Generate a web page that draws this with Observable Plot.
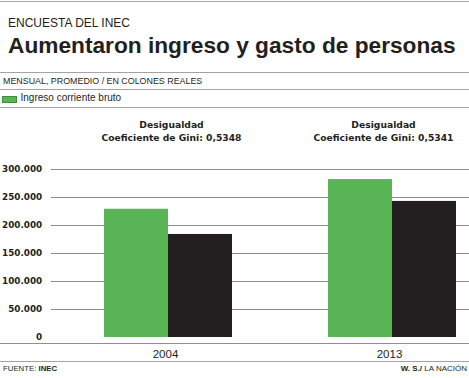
<!DOCTYPE html>
<html>
<head>
<meta charset="utf-8">
<script src="https://cdn.jsdelivr.net/npm/d3@7"></script>
<script src="https://cdn.jsdelivr.net/npm/@observablehq/plot@0.6"></script>
<style>
  html, body { margin: 0; padding: 0; background: #fff; }
  #page { position: relative; width: 469px; height: 378px; overflow: hidden; font-family: "Liberation Sans", Arial, sans-serif; color: #231f20; }
  .abs { position: absolute; line-height: 1; white-space: nowrap; }
  .rule { position: absolute; left: 0; width: 469px; height: 1px; background: #a3a3a3; }
  #chart { position: absolute; left: 0; top: 108px; }
</style>
</head>
<body>
<div id="page">
  <div class="rule" style="top:1px"></div>
  <div class="abs" style="top:17.3px;left:8px;font-size:12px;">ENCUESTA DEL INEC</div>
  <div class="abs" style="top:33.8px;left:8px;font-size:22.7px;font-weight:bold;">Aumentaron ingreso y gasto de personas</div>
  <div class="rule" style="top:72px"></div>
  <div class="abs" style="top:76.5px;left:3px;font-size:8.9px;">MENSUAL, PROMEDIO / EN COLONES REALES</div>
  <div class="rule" style="top:89px"></div>
  <div id="legend"></div>
  <div class="rule" style="top:107px"></div>
  <div id="chart"></div>
  <div class="rule" style="top:343px;background:#8f8f8f"></div>
  <div class="rule" style="top:361px"></div>
  <div class="abs" style="top:365.2px;left:3px;font-size:7.8px;">FUENTE: <b>INEC</b></div>
  <div class="abs" style="top:365.2px;right:2px;font-size:8px;"><b>W. S./</b> LA NACIÓN</div>
</div>
<script>
// ---- data ----
const years = ["2004", "2013"];
const ingreso = [229000, 282000];   // Ingreso corriente bruto (green)
const gasto = [184000, 243000];     // second series (black)
const giniLabel = ["Desigualdad", "Desigualdad"];
const gini = ["Coeficiente de Gini: 0,5348", "Coeficiente de Gini: 0,5341"];
const yTicks = [0, 50000, 100000, 150000, 200000, 250000, 300000];
const yTickLabels = ["0", "50.000", "100.000", "150.000", "200.000", "250.000", "300.000"];
const legendLabel = "Ingreso corriente bruto";

const GREEN = "#58b454";
const BLACK = "#231f20";

const rows = years.map((y, i) => ({year: y, ingreso: ingreso[i], gasto: gasto[i], note: giniLabel[i] + "\n" + gini[i]}));
const ticks = yTicks.map((v, i) => ({v, label: yTickLabels[i]}));

// legend
const leg = document.getElementById("legend");
leg.innerHTML = `<div style="position:absolute;left:2px;top:96px;width:13px;height:5px;background:${GREEN};border:0.5px solid #3f8f3c"></div>
<div class="abs" style="top:93px;left:20.5px;font-size:10px;">${legendLabel}</div>`;

const W = 469, H = 253;
const half = 64;
const plot = Plot.plot({
  width: W,
  height: H,
  marginLeft: 51,
  marginRight: 0,
  marginTop: 61,
  marginBottom: 24,
  style: {background: "transparent", overflow: "visible"},
  x: {domain: years, range: [103.5, 455.5], paddingInner: 0.4286, paddingOuter: 0, axis: null},
  y: {domain: [0, 300000], axis: null},
  marks: [
    Plot.ruleY(yTicks.filter(d => d > 0), {stroke: "#8a8a8a", strokeWidth: 1}),
    Plot.barY(rows, {x: "year", y: "ingreso", fill: GREEN, insetRight: half, insetLeft: 0}),
    Plot.barY(rows, {x: "year", y: "gasto", fill: BLACK, insetLeft: half, insetRight: 0}),
    Plot.text(ticks, {y: "v", text: "label", frameAnchor: "left", textAnchor: "end", dx: -9.3,
      fontFamily: "DejaVu Sans", fontWeight: "bold", fontSize: 8.8, fill: BLACK}),
    Plot.text(rows.filter(d => d.year === "2004"), {x: "year", text: "note", frameAnchor: "top", lineAnchor: "top", dy: -51, dx: 3,
      lineHeight: 1.45, fontFamily: "DejaVu Sans", fontWeight: "bold", fontSize: 9.2, fill: BLACK}),
    Plot.text(rows.filter(d => d.year === "2013"), {x: "year", text: "note", frameAnchor: "top", lineAnchor: "top", dy: -51, dx: -9,
      lineHeight: 1.45, fontFamily: "DejaVu Sans", fontWeight: "bold", fontSize: 9.2, fill: BLACK}),
    Plot.text(rows, {x: "year", text: "year", frameAnchor: "bottom", lineAnchor: "top", dy: 12, dx: -3,
      fontFamily: "Liberation Sans", fontSize: 11.5, fill: BLACK})
  ]
});
document.getElementById("chart").appendChild(plot);
</script>
</body>
</html>
